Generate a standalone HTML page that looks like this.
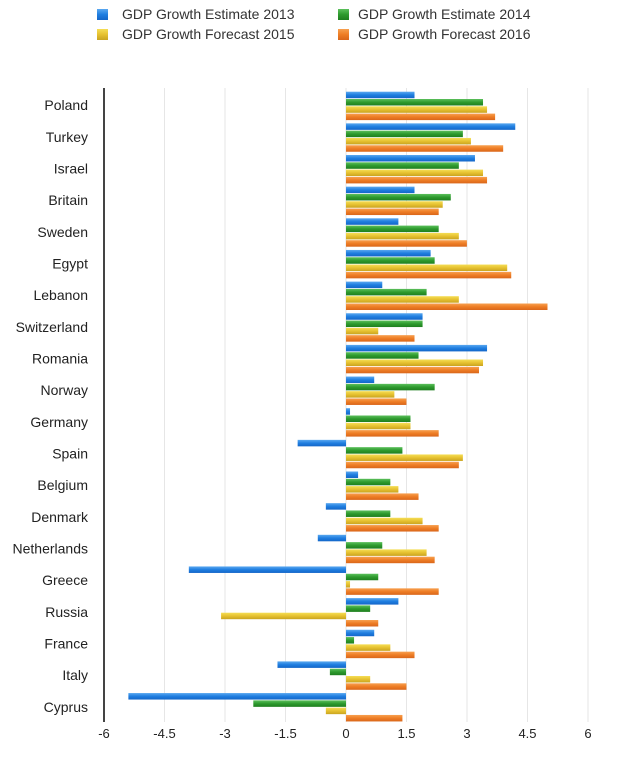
<!DOCTYPE html>
<html><head><meta charset="utf-8"><style>
body{margin:0;background:#fff;font-family:"Liberation Sans",sans-serif}
</style></head><body>
<svg width="620" height="770" xmlns="http://www.w3.org/2000/svg" font-family="Liberation Sans, sans-serif">
<defs>
<linearGradient id="b" x1="0" y1="0" x2="0" y2="1"><stop offset="0" stop-color="#5aa8f0"/><stop offset=".5" stop-color="#1f7ee0"/><stop offset="1" stop-color="#1466c8"/></linearGradient>
<linearGradient id="g" x1="0" y1="0" x2="0" y2="1"><stop offset="0" stop-color="#5cc05c"/><stop offset=".5" stop-color="#2e9a2e"/><stop offset="1" stop-color="#1f7f1f"/></linearGradient>
<linearGradient id="y" x1="0" y1="0" x2="0" y2="1"><stop offset="0" stop-color="#f5de55"/><stop offset=".5" stop-color="#e6c130"/><stop offset="1" stop-color="#c9a420"/></linearGradient>
<linearGradient id="o" x1="0" y1="0" x2="0" y2="1"><stop offset="0" stop-color="#f7a050"/><stop offset=".5" stop-color="#ee7d25"/><stop offset="1" stop-color="#d9661a"/></linearGradient>
</defs>
<g font-size="14" fill="#333">
<rect x="97" y="9" width="11" height="11" fill="url(#b)"/><text x="122" y="19">GDP Growth Estimate 2013</text>
<rect x="338" y="9" width="11" height="11" fill="url(#g)"/><text x="358" y="19">GDP Growth Estimate 2014</text>
<rect x="97" y="29" width="11" height="11" fill="url(#y)"/><text x="122" y="39">GDP Growth Forecast 2015</text>
<rect x="338" y="29" width="11" height="11" fill="url(#o)"/><text x="358" y="39">GDP Growth Forecast 2016</text>
</g>
<g stroke="#e6e6e6" stroke-width="1">
<line x1="164.5" y1="88" x2="164.5" y2="722"/><line x1="225" y1="88" x2="225" y2="722"/><line x1="285.5" y1="88" x2="285.5" y2="722"/><line x1="346" y1="88" x2="346" y2="722"/><line x1="406.5" y1="88" x2="406.5" y2="722"/><line x1="467" y1="88" x2="467" y2="722"/><line x1="527.5" y1="88" x2="527.5" y2="722"/><line x1="588" y1="88" x2="588" y2="722"/>
</g>
<line x1="104" y1="88" x2="104" y2="722" stroke="#444" stroke-width="2"/>
<g font-size="13" fill="#222" text-anchor="middle">
<text x="104" y="738">-6</text><text x="164.5" y="738">-4.5</text><text x="225" y="738">-3</text><text x="285.5" y="738">-1.5</text><text x="346" y="738">0</text><text x="406.5" y="738">1.5</text><text x="467" y="738">3</text><text x="527.5" y="738">4.5</text><text x="588" y="738">6</text>
</g>
<g font-size="14" fill="#222" text-anchor="end">
<text x="88" y="110">Poland</text><text x="88" y="142">Turkey</text><text x="88" y="173.5">Israel</text><text x="88" y="205">Britain</text><text x="88" y="237">Sweden</text><text x="88" y="268.5">Egypt</text><text x="88" y="300">Lebanon</text><text x="88" y="332">Switzerland</text><text x="88" y="363.5">Romania</text><text x="88" y="395">Norway</text><text x="88" y="427">Germany</text><text x="88" y="458.5">Spain</text><text x="88" y="490">Belgium</text><text x="88" y="522">Denmark</text><text x="88" y="553.5">Netherlands</text><text x="88" y="585">Greece</text><text x="88" y="617">Russia</text><text x="88" y="648.5">France</text><text x="88" y="680">Italy</text><text x="88" y="712">Cyprus</text>
</g>
<g transform="translate(346,91.7) scale(40.3,1)"><rect x="0" y="0" width="1.7" height="6.5" fill="url(#b)"/><rect x="0" y="7.3" width="3.4" height="6.5" fill="url(#g)"/><rect x="0" y="14.6" width="3.5" height="6.5" fill="url(#y)"/><rect x="0" y="21.9" width="3.7" height="6.5" fill="url(#o)"/></g>
<g transform="translate(346,123.35) scale(40.3,1)"><rect x="0" y="0" width="4.2" height="6.5" fill="url(#b)"/><rect x="0" y="7.3" width="2.9" height="6.5" fill="url(#g)"/><rect x="0" y="14.6" width="3.1" height="6.5" fill="url(#y)"/><rect x="0" y="21.9" width="3.9" height="6.5" fill="url(#o)"/></g>
<g transform="translate(346,155) scale(40.3,1)"><rect x="0" y="0" width="3.2" height="6.5" fill="url(#b)"/><rect x="0" y="7.3" width="2.8" height="6.5" fill="url(#g)"/><rect x="0" y="14.6" width="3.4" height="6.5" fill="url(#y)"/><rect x="0" y="21.9" width="3.5" height="6.5" fill="url(#o)"/></g>
<g transform="translate(346,186.65) scale(40.3,1)"><rect x="0" y="0" width="1.7" height="6.5" fill="url(#b)"/><rect x="0" y="7.3" width="2.6" height="6.5" fill="url(#g)"/><rect x="0" y="14.6" width="2.4" height="6.5" fill="url(#y)"/><rect x="0" y="21.9" width="2.3" height="6.5" fill="url(#o)"/></g>
<g transform="translate(346,218.3) scale(40.3,1)"><rect x="0" y="0" width="1.3" height="6.5" fill="url(#b)"/><rect x="0" y="7.3" width="2.3" height="6.5" fill="url(#g)"/><rect x="0" y="14.6" width="2.8" height="6.5" fill="url(#y)"/><rect x="0" y="21.9" width="3.0" height="6.5" fill="url(#o)"/></g>
<g transform="translate(346,249.95) scale(40.3,1)"><rect x="0" y="0" width="2.1" height="6.5" fill="url(#b)"/><rect x="0" y="7.3" width="2.2" height="6.5" fill="url(#g)"/><rect x="0" y="14.6" width="4.0" height="6.5" fill="url(#y)"/><rect x="0" y="21.9" width="4.1" height="6.5" fill="url(#o)"/></g>
<g transform="translate(346,281.6) scale(40.3,1)"><rect x="0" y="0" width="0.9" height="6.5" fill="url(#b)"/><rect x="0" y="7.3" width="2.0" height="6.5" fill="url(#g)"/><rect x="0" y="14.6" width="2.8" height="6.5" fill="url(#y)"/><rect x="0" y="21.9" width="5.0" height="6.5" fill="url(#o)"/></g>
<g transform="translate(346,313.25) scale(40.3,1)"><rect x="0" y="0" width="1.9" height="6.5" fill="url(#b)"/><rect x="0" y="7.3" width="1.9" height="6.5" fill="url(#g)"/><rect x="0" y="14.6" width="0.8" height="6.5" fill="url(#y)"/><rect x="0" y="21.9" width="1.7" height="6.5" fill="url(#o)"/></g>
<g transform="translate(346,344.9) scale(40.3,1)"><rect x="0" y="0" width="3.5" height="6.5" fill="url(#b)"/><rect x="0" y="7.3" width="1.8" height="6.5" fill="url(#g)"/><rect x="0" y="14.6" width="3.4" height="6.5" fill="url(#y)"/><rect x="0" y="21.9" width="3.3" height="6.5" fill="url(#o)"/></g>
<g transform="translate(346,376.55) scale(40.3,1)"><rect x="0" y="0" width="0.7" height="6.5" fill="url(#b)"/><rect x="0" y="7.3" width="2.2" height="6.5" fill="url(#g)"/><rect x="0" y="14.6" width="1.2" height="6.5" fill="url(#y)"/><rect x="0" y="21.9" width="1.5" height="6.5" fill="url(#o)"/></g>
<g transform="translate(346,408.2) scale(40.3,1)"><rect x="0" y="0" width="0.1" height="6.5" fill="url(#b)"/><rect x="0" y="7.3" width="1.6" height="6.5" fill="url(#g)"/><rect x="0" y="14.6" width="1.6" height="6.5" fill="url(#y)"/><rect x="0" y="21.9" width="2.3" height="6.5" fill="url(#o)"/></g>
<g transform="translate(346,439.85) scale(40.3,1)"><rect x="-1.2" y="0" width="1.2" height="6.5" fill="url(#b)"/><rect x="0" y="7.3" width="1.4" height="6.5" fill="url(#g)"/><rect x="0" y="14.6" width="2.9" height="6.5" fill="url(#y)"/><rect x="0" y="21.9" width="2.8" height="6.5" fill="url(#o)"/></g>
<g transform="translate(346,471.5) scale(40.3,1)"><rect x="0" y="0" width="0.3" height="6.5" fill="url(#b)"/><rect x="0" y="7.3" width="1.1" height="6.5" fill="url(#g)"/><rect x="0" y="14.6" width="1.3" height="6.5" fill="url(#y)"/><rect x="0" y="21.9" width="1.8" height="6.5" fill="url(#o)"/></g>
<g transform="translate(346,503.15) scale(40.3,1)"><rect x="-0.5" y="0" width="0.5" height="6.5" fill="url(#b)"/><rect x="0" y="7.3" width="1.1" height="6.5" fill="url(#g)"/><rect x="0" y="14.6" width="1.9" height="6.5" fill="url(#y)"/><rect x="0" y="21.9" width="2.3" height="6.5" fill="url(#o)"/></g>
<g transform="translate(346,534.8) scale(40.3,1)"><rect x="-0.7" y="0" width="0.7" height="6.5" fill="url(#b)"/><rect x="0" y="7.3" width="0.9" height="6.5" fill="url(#g)"/><rect x="0" y="14.6" width="2.0" height="6.5" fill="url(#y)"/><rect x="0" y="21.9" width="2.2" height="6.5" fill="url(#o)"/></g>
<g transform="translate(346,566.45) scale(40.3,1)"><rect x="-3.9" y="0" width="3.9" height="6.5" fill="url(#b)"/><rect x="0" y="7.3" width="0.8" height="6.5" fill="url(#g)"/><rect x="0" y="14.6" width="0.1" height="6.5" fill="url(#y)"/><rect x="0" y="21.9" width="2.3" height="6.5" fill="url(#o)"/></g>
<g transform="translate(346,598.1) scale(40.3,1)"><rect x="0" y="0" width="1.3" height="6.5" fill="url(#b)"/><rect x="0" y="7.3" width="0.6" height="6.5" fill="url(#g)"/><rect x="-3.1" y="14.6" width="3.1" height="6.5" fill="url(#y)"/><rect x="0" y="21.9" width="0.8" height="6.5" fill="url(#o)"/></g>
<g transform="translate(346,629.75) scale(40.3,1)"><rect x="0" y="0" width="0.7" height="6.5" fill="url(#b)"/><rect x="0" y="7.3" width="0.2" height="6.5" fill="url(#g)"/><rect x="0" y="14.6" width="1.1" height="6.5" fill="url(#y)"/><rect x="0" y="21.9" width="1.7" height="6.5" fill="url(#o)"/></g>
<g transform="translate(346,661.4) scale(40.3,1)"><rect x="-1.7" y="0" width="1.7" height="6.5" fill="url(#b)"/><rect x="-0.4" y="7.3" width="0.4" height="6.5" fill="url(#g)"/><rect x="0" y="14.6" width="0.6" height="6.5" fill="url(#y)"/><rect x="0" y="21.9" width="1.5" height="6.5" fill="url(#o)"/></g>
<g transform="translate(346,693.05) scale(40.3,1)"><rect x="-5.4" y="0" width="5.4" height="6.5" fill="url(#b)"/><rect x="-2.3" y="7.3" width="2.3" height="6.5" fill="url(#g)"/><rect x="-0.5" y="14.6" width="0.5" height="6.5" fill="url(#y)"/><rect x="0" y="21.9" width="1.4" height="6.5" fill="url(#o)"/></g>
</svg>
</body></html>
